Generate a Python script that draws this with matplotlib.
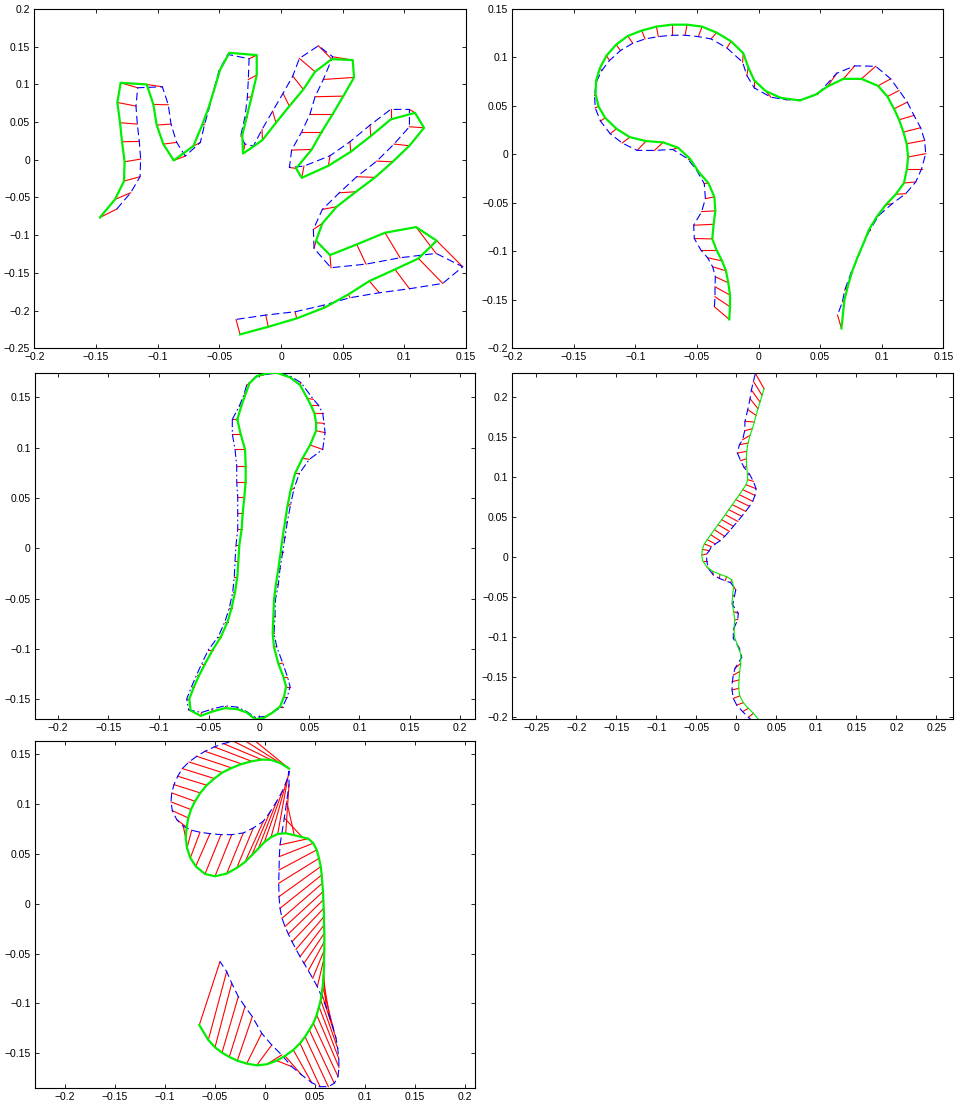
import matplotlib.pyplot as plt

# ---- panel 1: hand ----
hand_gx = [-0.1468, -0.1346, -0.1273, -0.1268, -0.1289, -0.1305, -0.1327, -0.1300, -0.1089, -0.1035,
           -0.1008, -0.0954, -0.0870, -0.0711, -0.0643, -0.0589, -0.0543, -0.0495, -0.0419, -0.0197,
           -0.0197, -0.0238, -0.0278, -0.0314, -0.0308, -0.0246, -0.0151, -0.0041, 0.0068, 0.0181,
           0.0276, 0.0411, 0.0581, 0.0592, 0.0505, 0.0419, 0.0330, 0.0249, 0.0122, 0.0168,
           0.0384, 0.0565, 0.0727, 0.0889, 0.1086, 0.1159, 0.1041, 0.0905, 0.0762, 0.0608,
           0.0451, 0.0335, 0.0284, 0.0397, 0.0614, 0.0843, 0.1095, 0.1262, 0.1114, 0.0924,
           0.0716, 0.0546, 0.0357, 0.0127, -0.0103, -0.0332]
hand_gy = [-0.0765, -0.0526, -0.0283, -0.0027, 0.0239, 0.0491, 0.0760, 0.1021, 0.0999, 0.0734,
           0.0460, 0.0208, -0.0009, 0.0181, 0.0447, 0.0681, 0.0924, 0.1189, 0.1419, 0.1388,
           0.1123, 0.0836, 0.0570, 0.0327, 0.0084, 0.0150, 0.0261, 0.0491, 0.0712, 0.0933,
           0.1167, 0.1335, 0.1322, 0.1092, 0.0844, 0.0606, 0.0371, 0.0137, -0.0115, -0.0239,
           -0.0080, 0.0106, 0.0314, 0.0535, 0.0623, 0.0424, 0.0186, -0.0027, -0.0234, -0.0424,
           -0.0623, -0.0844, -0.1074, -0.1264, -0.1123, -0.0968, -0.0893, -0.1074, -0.1309, -0.1454,
           -0.1609, -0.1786, -0.1958, -0.2104, -0.2215, -0.2317]
hand_bx = [-0.1332, -0.1219, -0.1143, -0.1138, -0.1149, -0.1165, -0.1176, -0.1162, -0.0962, -0.0914,
           -0.0892, -0.0846, -0.0776, -0.0654, -0.0619, -0.0581, -0.0549, -0.0503, -0.0432, -0.0259,
           -0.0265, -0.0273, -0.0292, -0.0327, -0.0292, -0.0224, -0.0154, -0.0068, 0.0016, 0.0095,
           0.0149, 0.0303, 0.0419, 0.0343, 0.0276, 0.0235, 0.0168, 0.0086, 0.0068, 0.0186,
           0.0397, 0.0559, 0.0722, 0.0889, 0.1041, 0.1041, 0.0916, 0.0776, 0.0614, 0.0473,
           0.0335, 0.0262, 0.0268, 0.0405, 0.0689, 0.0965, 0.1257, 0.1473, 0.1311, 0.1041,
           0.0797, 0.0559, 0.0338, 0.0114, -0.0124, -0.0365]
hand_by = [-0.0654, -0.0438, -0.0225, 0.0009, 0.0243, 0.0473, 0.0712, 0.0955, 0.0968, 0.0729,
           0.0473, 0.0230, 0.0049, 0.0230, 0.0473, 0.0694, 0.0902, 0.1180, 0.1397, 0.1340,
           0.1065, 0.0827, 0.0570, 0.0314, 0.0208, 0.0181, 0.0402, 0.0645, 0.0880, 0.1110,
           0.1344, 0.1512, 0.1366, 0.1065, 0.0836, 0.0606, 0.0371, 0.0128, -0.0102, -0.0084,
           0.0053, 0.0239, 0.0460, 0.0668, 0.0668, 0.0438, 0.0208, -0.0018, -0.0225, -0.0438,
           -0.0659, -0.0924, -0.1176, -0.1432, -0.1384, -0.1300, -0.1242, -0.1419, -0.1640, -0.1711,
           -0.1764, -0.1830, -0.1932, -0.2016, -0.2060, -0.2118]

# ---- panel 2: hook / bone head ----
hook_gx = [-0.0238, -0.0232, -0.0232, -0.0246, -0.0265, -0.0297, -0.0341, -0.0376, -0.0365, -0.0351,
           -0.0359, -0.0408, -0.0486, -0.0557, -0.0654, -0.0776, -0.0914, -0.1046, -0.1154, -0.1246,
           -0.1300, -0.1324, -0.1319, -0.1289, -0.1235, -0.1157, -0.1062, -0.0949, -0.0830, -0.0705,
           -0.0581, -0.0459, -0.0341, -0.0224, -0.0124, -0.0084, -0.0035, 0.0059, 0.0181, 0.0335,
           0.0465, 0.0559, 0.0689, 0.0835, 0.0970, 0.1046, 0.1100, 0.1141, 0.1176, 0.1203,
           0.1214, 0.1205, 0.1181, 0.1114, 0.1032, 0.0959, 0.0897, 0.0851, 0.0803, 0.0762,
           0.0727, 0.0697, 0.0673]
hook_gy = [-0.1702, -0.1572, -0.1452, -0.1325, -0.1201, -0.1098, -0.0988, -0.0872, -0.0721, -0.0583,
           -0.0439, -0.0295, -0.0182, -0.0045, 0.0069, 0.0124, 0.0137, 0.0178, 0.0264, 0.0377,
           0.0494, 0.0625, 0.0762, 0.0889, 0.1019, 0.1132, 0.1222, 0.1277, 0.1318, 0.1338,
           0.1338, 0.1318, 0.1256, 0.1167, 0.1043, 0.0899, 0.0762, 0.0652, 0.0583, 0.0556,
           0.0618, 0.0700, 0.0779, 0.0779, 0.0707, 0.0597, 0.0470, 0.0357, 0.0230, 0.0110,
           -0.0027, -0.0148, -0.0295, -0.0412, -0.0522, -0.0645, -0.0776, -0.0920, -0.1064, -0.1201,
           -0.1349, -0.1503, -0.1795]
hook_bx = [-0.0359, -0.0354, -0.0354, -0.0351, -0.0373, -0.0414, -0.0468, -0.0522, -0.0527, -0.0462,
           -0.0432, -0.0441, -0.0503, -0.0576, -0.0697, -0.0846, -0.0986, -0.1108, -0.1205, -0.1284,
           -0.1327, -0.1332, -0.1319, -0.1273, -0.1211, -0.1122, -0.1022, -0.0922, -0.0814, -0.0705,
           -0.0597, -0.0489, -0.0386, -0.0257, -0.0130, -0.0095, -0.0035, 0.0100, 0.0230, 0.0343,
           0.0478, 0.0635, 0.0781, 0.0951, 0.1073, 0.1141, 0.1208, 0.1262, 0.1316, 0.1349,
           0.1357, 0.1324, 0.1276, 0.1195, 0.1086, 0.0978, 0.0905, 0.0851, 0.0803, 0.0749,
           0.0700, 0.0681, 0.0641]
hook_by = [-0.1572, -0.1469, -0.1366, -0.1263, -0.1160, -0.1067, -0.0988, -0.0868, -0.0731, -0.0590,
           -0.0456, -0.0302, -0.0165, -0.0045, 0.0051, 0.0041, 0.0041, 0.0117, 0.0213, 0.0343,
           0.0480, 0.0607, 0.0745, 0.0865, 0.0968, 0.1071, 0.1146, 0.1191, 0.1215, 0.1229,
           0.1229, 0.1215, 0.1191, 0.1098, 0.0951, 0.0813, 0.0686, 0.0590, 0.0563, 0.0563,
           0.0618, 0.0837, 0.0913, 0.0909, 0.0779, 0.0659, 0.0539, 0.0402, 0.0275, 0.0144,
           0.0007, -0.0148, -0.0285, -0.0405, -0.0508, -0.0628, -0.0776, -0.0920, -0.1074, -0.1229,
           -0.1400, -0.1520, -0.1658]

# ---- panel 3: bone (closed) ----
bone_gx = [-0.0216, -0.0183, -0.0139, -0.0133, -0.0133, -0.0146, -0.0163, -0.0173, -0.0196, -0.0206,
           -0.0216, -0.0239, -0.0272, -0.0312, -0.0378, -0.0461, -0.0538, -0.0594, -0.0647, -0.0694,
           -0.0681, -0.0581, -0.0465, -0.0339, -0.0216, -0.0123, -0.0040, 0.0043, 0.0136, 0.0209,
           0.0249, 0.0269, 0.0242, 0.0193, 0.0149, 0.0136, 0.0143, 0.0149, 0.0169, 0.0193,
           0.0216, 0.0236, 0.0259, 0.0282, 0.0315, 0.0359, 0.0432, 0.0508, 0.0568, 0.0568,
           0.0551, 0.0515, 0.0481, 0.0408, 0.0309, 0.0176, 0.0076, -0.0023, -0.0096, -0.0129, -0.0173]
bone_gy = [0.1281, 0.1136, 0.0983, 0.0818, 0.0662, 0.0507, 0.0348, 0.0189, 0.0033, -0.0126,
           -0.0281, -0.0437, -0.0589, -0.0728, -0.0877, -0.1010, -0.1149, -0.1258, -0.1374, -0.1497,
           -0.1613, -0.1666, -0.1623, -0.1589, -0.1599, -0.1632, -0.1699, -0.1689, -0.1632, -0.1573,
           -0.1474, -0.1374, -0.1275, -0.1149, -0.0983, -0.0844, -0.0672, -0.0513, -0.0354, -0.0199,
           -0.0033, 0.0116, 0.0265, 0.0414, 0.0579, 0.0745, 0.0894, 0.1026, 0.1169, 0.1248,
           0.1341, 0.1424, 0.1490, 0.1623, 0.1699, 0.1745, 0.1738, 0.1712, 0.1639, 0.1546, 0.1424]
bone_bx = [-0.0266, -0.0266, -0.0239, -0.0222, -0.0222, -0.0212, -0.0212, -0.0212, -0.0229, -0.0239,
           -0.0246, -0.0262, -0.0295, -0.0339, -0.0405, -0.0505, -0.0571, -0.0621, -0.0671, -0.0720,
           -0.0701, -0.0571, -0.0471, -0.0339, -0.0216, -0.0123, -0.0040, 0.0060, 0.0149, 0.0236,
           0.0282, 0.0309, 0.0282, 0.0236, 0.0176, 0.0149, 0.0159, 0.0163, 0.0193, 0.0209,
           0.0236, 0.0259, 0.0282, 0.0315, 0.0349, 0.0402, 0.0501, 0.0634, 0.0657, 0.0647,
           0.0634, 0.0591, 0.0541, 0.0418, 0.0309, 0.0176, 0.0043, -0.0040, -0.0123, -0.0146, -0.0196]
bone_by = [0.1281, 0.1136, 0.0983, 0.0818, 0.0662, 0.0507, 0.0348, 0.0189, 0.0033, -0.0126,
           -0.0281, -0.0437, -0.0589, -0.0728, -0.0877, -0.1010, -0.1149, -0.1258, -0.1374, -0.1497,
           -0.1606, -0.1632, -0.1599, -0.1566, -0.1579, -0.1623, -0.1679, -0.1672, -0.1623, -0.1573,
           -0.1474, -0.1374, -0.1275, -0.1142, -0.0977, -0.0844, -0.0672, -0.0513, -0.0354, -0.0199,
           -0.0033, 0.0116, 0.0265, 0.0440, 0.0596, 0.0745, 0.0884, 0.0983, 0.1149, 0.1242,
           0.1341, 0.1424, 0.1480, 0.1646, 0.1712, 0.1745, 0.1722, 0.1699, 0.1623, 0.1540, 0.1414]

# ---- panel 4: profile ----
face_gx = [0.0346, 0.0321, 0.0296, 0.0271, 0.0246, 0.0225, 0.0200, 0.0171, 0.0146, 0.0129,
           0.0125, 0.0129, 0.0138, 0.0142, 0.0121, 0.0079, 0.0038, -0.0008, -0.0050, -0.0096,
           -0.0138, -0.0183, -0.0229, -0.0275, -0.0321, -0.0363, -0.0400, -0.0425, -0.0433, -0.0421,
           -0.0371, -0.0296, -0.0204, -0.0121, -0.0058, -0.0033, -0.0046, -0.0054, -0.0033, -0.0021,
           -0.0029, -0.0025, 0.0017, 0.0058, 0.0054, 0.0042, 0.0033, 0.0029, 0.0042, 0.0088,
           0.0150, 0.0213, 0.0275]
face_gy = [0.2108, 0.2025, 0.1942, 0.1858, 0.1775, 0.1692, 0.1608, 0.1525, 0.1429, 0.1325,
           0.1233, 0.1138, 0.1042, 0.0971, 0.0908, 0.0846, 0.0783, 0.0721, 0.0658, 0.0596,
           0.0533, 0.0471, 0.0408, 0.0346, 0.0283, 0.0221, 0.0167, 0.0100, 0.0029, -0.0042,
           -0.0117, -0.0175, -0.0213, -0.0242, -0.0283, -0.0367, -0.0471, -0.0575, -0.0679, -0.0783,
           -0.0888, -0.0992, -0.1108, -0.1221, -0.1325, -0.1429, -0.1533, -0.1638, -0.1733, -0.1817,
           -0.1888, -0.1950, -0.2025]
face_bx = [0.0238, 0.0213, 0.0188, 0.0171, 0.0142, 0.0108, 0.0104, 0.0079, 0.0038, 0.0013,
           0.0054, 0.0096, 0.0163, 0.0213, 0.0246, 0.0233, 0.0204, 0.0163, 0.0117, 0.0067,
           0.0017, -0.0038, -0.0088, -0.0146, -0.0204, -0.0263, -0.0313, -0.0338, -0.0371, -0.0371,
           -0.0350, -0.0288, -0.0213, -0.0142, -0.0071, -0.0008, -0.0025, -0.0046, 0.0025, 0.0017,
           -0.0038, -0.0038, 0.0038, 0.0067, -0.0017, -0.0038, -0.0050, -0.0054, -0.0038, 0.0004,
           0.0079, 0.0150, 0.0221]
face_by = [0.2300, 0.2200, 0.2092, 0.1983, 0.1846, 0.1700, 0.1583, 0.1471, 0.1408, 0.1304,
           0.1208, 0.1125, 0.1042, 0.0950, 0.0858, 0.0775, 0.0700, 0.0638, 0.0575, 0.0513,
           0.0450, 0.0388, 0.0325, 0.0263, 0.0208, 0.0167, 0.0133, 0.0083, 0.0042, -0.0042,
           -0.0138, -0.0221, -0.0263, -0.0292, -0.0317, -0.0408, -0.0492, -0.0596, -0.0700, -0.0775,
           -0.0908, -0.1013, -0.1138, -0.1250, -0.1388, -0.1471, -0.1554, -0.1658, -0.1763, -0.1846,
           -0.1929, -0.2000, -0.2067]

# ---- panel 5: S curve ----
scurve_gx = [0.0240, 0.0150, 0.0060, -0.0033, -0.0133, -0.0233, -0.0333, -0.0427, -0.0507, -0.0583,
             -0.0647, -0.0700, -0.0740, -0.0767, -0.0783, -0.0793, -0.0780, -0.0747, -0.0693, -0.0600,
             -0.0500, -0.0383, -0.0283, -0.0200, -0.0133, -0.0067, -0.0007, 0.0060, 0.0127, 0.0207,
             0.0293, 0.0373, 0.0433, 0.0483, 0.0517, 0.0540, 0.0557, 0.0567, 0.0573, 0.0580,
             0.0583, 0.0587, 0.0590, 0.0590, 0.0593, 0.0593, 0.0593, 0.0590, 0.0590, 0.0587,
             0.0583, 0.0577, 0.0567, 0.0557, 0.0540, 0.0517, 0.0483, 0.0443, 0.0400, 0.0350,
             0.0283, 0.0200, 0.0117, 0.0017, -0.0083, -0.0183, -0.0277, -0.0357, -0.0430, -0.0500,
             -0.0567, -0.0657]
scurve_gy = [0.1353, 0.1409, 0.1440, 0.1443, 0.1426, 0.1399, 0.1359, 0.1313, 0.1253, 0.1186,
             0.1109, 0.1025, 0.0942, 0.0858, 0.0765, 0.0658, 0.0558, 0.0458, 0.0374, 0.0297,
             0.0274, 0.0301, 0.0357, 0.0417, 0.0484, 0.0551, 0.0615, 0.0665, 0.0698, 0.0705,
             0.0685, 0.0665, 0.0651, 0.0605, 0.0538, 0.0454, 0.0371, 0.0287, 0.0204, 0.0120,
             0.0037, -0.0047, -0.0130, -0.0214, -0.0297, -0.0381, -0.0464, -0.0548, -0.0631, -0.0698,
             -0.0765, -0.0832, -0.0898, -0.0965, -0.1032, -0.1116, -0.1199, -0.1266, -0.1333, -0.1399,
             -0.1466, -0.1526, -0.1573, -0.1610, -0.1620, -0.1603, -0.1573, -0.1536, -0.1493, -0.1440,
             -0.1366, -0.1216]
scurve_bx = [-0.0127, -0.0217, -0.0317, -0.0417, -0.0507, -0.0600, -0.0683, -0.0760, -0.0827, -0.0873,
             -0.0910, -0.0933, -0.0940, -0.0927, -0.0883, -0.0817, -0.0733, -0.0650, -0.0550, -0.0440,
             -0.0333, -0.0217, -0.0117, -0.0017, 0.0050, 0.0117, 0.0173, 0.0217, 0.0240, 0.0240,
             0.0217, 0.0193, 0.0150, 0.0143, 0.0140, 0.0137, 0.0140, 0.0150, 0.0170, 0.0200,
             0.0233, 0.0270, 0.0310, 0.0350, 0.0390, 0.0433, 0.0477, 0.0523, 0.0567, 0.0610,
             0.0650, 0.0683, 0.0710, 0.0727, 0.0737, 0.0740, 0.0730, 0.0693, 0.0633, 0.0550,
             0.0467, 0.0367, 0.0267, 0.0167, 0.0067, -0.0033, -0.0127, -0.0200, -0.0267, -0.0333,
             -0.0383, -0.0450]
scurve_by = [0.1653, 0.1643, 0.1627, 0.1603, 0.1570, 0.1526, 0.1476, 0.1419, 0.1353, 0.1276,
             0.1192, 0.1109, 0.1019, 0.0932, 0.0842, 0.0775, 0.0735, 0.0715, 0.0701, 0.0691,
             0.0691, 0.0708, 0.0758, 0.0825, 0.0918, 0.1025, 0.1126, 0.1232, 0.1326, 0.1192,
             0.1025, 0.0858, 0.0588, 0.0471, 0.0337, 0.0204, 0.0070, -0.0047, -0.0147, -0.0230,
             -0.0304, -0.0381, -0.0458, -0.0531, -0.0598, -0.0671, -0.0748, -0.0832, -0.0932, -0.1032,
             -0.1149, -0.1249, -0.1349, -0.1450, -0.1550, -0.1640, -0.1733, -0.1800, -0.1834, -0.1834,
             -0.1794, -0.1717, -0.1633, -0.1516, -0.1416, -0.1299, -0.1132, -0.1032, -0.0932, -0.0798,
             -0.0681, -0.0581]

# axis limits and ticks per panel
xticks_35 = [-0.2, -0.15, -0.1, -0.05, 0, 0.05, 0.1, 0.15]
xticks_40 = [-0.2, -0.15, -0.1, -0.05, 0, 0.05, 0.1, 0.15, 0.2]
xticks_50 = [-0.25, -0.2, -0.15, -0.1, -0.05, 0, 0.05, 0.1, 0.15, 0.2, 0.25]
yticks_1 = [-0.25, -0.2, -0.15, -0.1, -0.05, 0, 0.05, 0.1, 0.15, 0.2]
yticks_2 = [-0.2, -0.15, -0.1, -0.05, 0, 0.05, 0.1, 0.15]
yticks_3 = [-0.15, -0.1, -0.05, 0, 0.05, 0.1, 0.15]
yticks_4 = [-0.2, -0.15, -0.1, -0.05, 0, 0.05, 0.1, 0.15, 0.2]


def tick_text(vals):
    return [('%g' % v).replace('-', '\u2212') for v in vals]


def panel(rect, gx, gy, bx, by, xlim, ylim, xt, yt, closed=False, green_lw=1.6, dash=(7, 3.5)):
    ax = fig.add_axes(rect)
    for i in range(len(gx)):
        ax.plot([gx[i], bx[i]], [gy[i], by[i]], color='red', lw=0.8, zorder=1)
    gx2, gy2, bx2, by2 = list(gx), list(gy), list(bx), list(by)
    if closed:
        gx2.append(gx[0]); gy2.append(gy[0]); bx2.append(bx[0]); by2.append(by[0])
    ax.plot(bx2, by2, color='blue', lw=0.8, dashes=dash, zorder=2)
    ax.plot(gx2, gy2, color='#00ee00', lw=green_lw, zorder=3)
    ax.set_xlim(xlim)
    ax.set_ylim(ylim)
    ax.set_xticks(xt)
    ax.set_xticklabels(tick_text(xt))
    ax.set_yticks(yt)
    ax.set_yticklabels(tick_text(yt))
    ax.tick_params(direction='in', top=True, right=True, length=3, width=0.6,
                   labelsize=7.5, pad=3)
    for s in ax.spines.values():
        s.set_linewidth(0.8)
    return ax


plt.rcParams['font.family'] = ['Liberation Sans', 'DejaVu Sans']
fig = plt.figure(figsize=(9.56, 11.08), dpi=100)

panel([0.0359, 0.6857, 0.4516, 0.3062], hand_gx, hand_gy, hand_bx, hand_by,
      (-0.2, 0.15), (-0.25, 0.2), xticks_35, yticks_1)
panel([0.5359, 0.6857, 0.4508, 0.3062], hook_gx, hook_gy, hook_bx, hook_by,
      (-0.2, 0.15), (-0.2, 0.15), xticks_35, yticks_2)
panel([0.0366, 0.3508, 0.4603, 0.3128], bone_gx, bone_gy, bone_bx, bone_by,
      (-0.223, 0.215), (-0.170, 0.1745), xticks_40, yticks_3, closed=True,
      dash=(7, 2.5, 1.5, 2.5))
panel([0.5359, 0.3508, 0.4610, 0.3128], face_gx, face_gy, face_bx, face_by,
      (-0.28, 0.2708), (-0.2025, 0.2308), xticks_50, yticks_4, green_lw=0.8)
panel([0.0366, 0.0178, 0.4603, 0.3135], scurve_gx, scurve_gy, scurve_bx, scurve_by,
      (-0.23, 0.21), (-0.185, 0.163), xticks_40, yticks_3)

fig.savefig('out.png', dpi=100)
